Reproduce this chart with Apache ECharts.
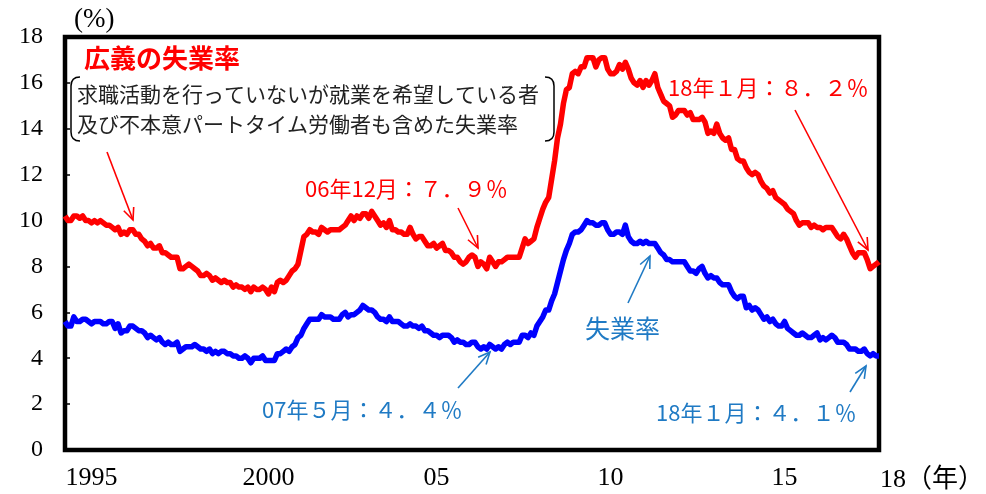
<!DOCTYPE html>
<html>
<head>
<meta charset="utf-8">
<script src="https://cdn.jsdelivr.net/npm/echarts@6/dist/echarts.min.js"></script>
<style>
  html, body { margin: 0; padding: 0; background: #fff; }
  #chart { width: 986px; height: 494px; }
</style>
</head>
<body>
<div id="chart"></div>
<script>
// 広義の失業率, 1995/01 - 2018/01 (monthly, %)
const broadRate = [
  10.2, 10.0, 10.0, 10.2, 10.2, 10.1, 10.2, 10.0, 10.0, 9.9, 10.0, 9.9,   // 1995
  10.0, 9.9, 9.8, 9.8, 9.7, 9.6, 9.7, 9.4, 9.5, 9.4, 9.6, 9.6,           // 1996
  9.4, 9.4, 9.2, 9.1, 8.9, 9.0, 8.8, 8.8, 8.9, 8.6, 8.6, 8.5,            // 1997
  8.4, 8.4, 8.4, 7.9, 7.9, 8.0, 8.1, 8.0, 7.9, 7.8, 7.6, 7.6,            // 1998
  7.7, 7.6, 7.4, 7.5, 7.4, 7.3, 7.4, 7.3, 7.3, 7.1, 7.2, 7.1,            // 1999
  7.1, 7.0, 7.1, 6.9, 7.1, 7.0, 7.0, 7.1, 7.0, 6.8, 7.1, 6.9,            // 2000
  7.3, 7.4, 7.3, 7.4, 7.6, 7.8, 7.9, 8.1, 8.7, 9.3, 9.4, 9.6,            // 2001
  9.5, 9.5, 9.4, 9.7, 9.6, 9.5, 9.6, 9.6, 9.6, 9.6, 9.7, 9.8,            // 2002
  10.0, 10.2, 10.0, 10.2, 10.1, 10.3, 10.3, 10.1, 10.4, 10.2, 10.0, 9.8, // 2003
  9.9, 9.7, 10.0, 9.6, 9.6, 9.5, 9.5, 9.4, 9.4, 9.7, 9.4, 9.2,           // 2004
  9.3, 9.3, 9.1, 8.9, 8.9, 9.0, 8.8, 8.9, 9.0, 8.7, 8.7, 8.6,            // 2005
  8.4, 8.4, 8.2, 8.1, 8.2, 8.4, 8.5, 8.4, 8.0, 8.2, 8.1, 7.9,            // 2006
  8.4, 8.2, 8.0, 8.2, 8.2, 8.3, 8.4, 8.4, 8.4, 8.4, 8.4, 8.8,            // 2007
  9.2, 9.0, 9.1, 9.2, 9.7, 10.1, 10.5, 10.8, 11.0, 11.8, 12.6, 13.6,     // 2008
  14.2, 15.1, 15.7, 15.8, 16.4, 16.5, 16.4, 16.7, 16.7, 17.1, 17.1, 17.1, // 2009
  16.7, 17.0, 17.1, 17.1, 16.6, 16.4, 16.4, 16.5, 16.8, 16.6, 16.9, 16.6, // 2010
  16.2, 16.0, 15.9, 16.1, 15.8, 16.1, 15.9, 16.1, 16.4, 15.8, 15.5, 15.2, // 2011
  15.1, 15.0, 14.5, 14.6, 14.8, 14.8, 14.8, 14.6, 14.7, 14.4, 14.4, 14.4, // 2012
  14.5, 14.3, 13.8, 13.9, 13.8, 14.2, 13.8, 13.6, 13.5, 13.6, 13.1, 13.1, // 2013
  12.7, 12.6, 12.6, 12.3, 12.1, 12.0, 12.1, 12.0, 11.7, 11.5, 11.4, 11.2, // 2014
  11.3, 11.0, 10.9, 10.8, 10.7, 10.5, 10.4, 10.3, 10.0, 9.8, 9.9, 9.9,   // 2015
  9.9, 9.7, 9.8, 9.7, 9.7, 9.6, 9.7, 9.7, 9.7, 9.5, 9.3, 9.2,            // 2016
  9.4, 9.2, 8.9, 8.6, 8.4, 8.6, 8.6, 8.6, 8.3, 7.9, 8.0, 8.1,            // 2017
  8.2                                                                     // 2018/01
];

// 失業率, 1995/01 - 2018/01 (monthly, %)
const unemploymentRate = [
  5.6, 5.4, 5.4, 5.8, 5.6, 5.6, 5.7, 5.7, 5.6, 5.5, 5.6, 5.6,  // 1995
  5.6, 5.5, 5.5, 5.6, 5.6, 5.3, 5.5, 5.1, 5.2, 5.2, 5.4, 5.4,  // 1996
  5.3, 5.2, 5.2, 5.1, 4.9, 5.0, 4.9, 4.8, 4.9, 4.7, 4.6, 4.7,  // 1997
  4.6, 4.6, 4.7, 4.3, 4.4, 4.5, 4.5, 4.5, 4.6, 4.5, 4.4, 4.4,  // 1998
  4.3, 4.4, 4.2, 4.3, 4.2, 4.3, 4.3, 4.2, 4.2, 4.1, 4.1, 4.0,  // 1999
  4.0, 4.1, 4.0, 3.8, 4.0, 4.0, 4.0, 4.1, 3.9, 3.9, 3.9, 3.9,  // 2000
  4.2, 4.2, 4.3, 4.4, 4.3, 4.5, 4.6, 4.9, 5.0, 5.3, 5.5, 5.7,  // 2001
  5.7, 5.7, 5.7, 5.9, 5.8, 5.8, 5.8, 5.7, 5.7, 5.7, 5.9, 6.0,  // 2002
  5.8, 5.9, 5.9, 6.0, 6.1, 6.3, 6.2, 6.1, 6.1, 6.0, 5.8, 5.7,  // 2003
  5.7, 5.6, 5.8, 5.6, 5.6, 5.6, 5.5, 5.4, 5.4, 5.5, 5.4, 5.4,  // 2004
  5.3, 5.4, 5.2, 5.2, 5.1, 5.0, 5.0, 4.9, 5.0, 5.0, 5.0, 4.9,  // 2005
  4.7, 4.8, 4.7, 4.7, 4.6, 4.6, 4.7, 4.7, 4.5, 4.4, 4.5, 4.4,  // 2006
  4.6, 4.5, 4.4, 4.5, 4.4, 4.6, 4.7, 4.6, 4.7, 4.7, 4.7, 5.0,  // 2007
  5.0, 4.9, 5.1, 5.0, 5.4, 5.6, 5.8, 6.1, 6.1, 6.5, 6.8, 7.3,  // 2008
  7.8, 8.3, 8.7, 9.0, 9.4, 9.5, 9.5, 9.6, 9.8, 10.0, 9.9, 9.9, // 2009
  9.8, 9.8, 9.9, 9.9, 9.6, 9.4, 9.4, 9.5, 9.5, 9.4, 9.8, 9.3,  // 2010
  9.1, 9.0, 9.0, 9.1, 9.0, 9.1, 9.0, 9.0, 9.0, 8.8, 8.6, 8.5,  // 2011
  8.3, 8.3, 8.2, 8.2, 8.2, 8.2, 8.2, 8.0, 7.8, 7.8, 7.7, 7.9,  // 2012
  8.0, 7.7, 7.5, 7.6, 7.5, 7.5, 7.3, 7.2, 7.2, 7.2, 6.9, 6.7,  // 2013
  6.6, 6.7, 6.7, 6.2, 6.3, 6.1, 6.2, 6.1, 5.9, 5.7, 5.8, 5.6,  // 2014
  5.7, 5.5, 5.4, 5.4, 5.6, 5.3, 5.2, 5.1, 5.0, 5.0, 5.1, 5.0,  // 2015
  4.9, 4.9, 5.0, 5.1, 4.8, 4.9, 4.8, 4.9, 5.0, 4.9, 4.7, 4.7,  // 2016
  4.7, 4.6, 4.4, 4.4, 4.4, 4.3, 4.3, 4.4, 4.2, 4.1, 4.2, 4.1,  // 2017
  4.1                                                          // 2018/01
];

// x axis labels, keyed by month index
const yearLabels = { 9: '1995', 69: '2000', 126: '05', 185: '10', 244: '15' };

let months = [];
for (let y = 1995; y <= 2018; y++) {
  for (let m = 1; m <= 12; m++) {
    if (months.length < broadRate.length) months.push(y + '/' + m);
  }
}

const red = '#ff0000';
const blue = '#1f7ac4';
const serif = '"Liberation Serif", "Noto Sans CJK JP", serif';
const gothic = '"Noto Sans CJK JP", sans-serif';

function arrow(x1, y1, x2, y2, color) {
  let a = Math.atan2(y2 - y1, x2 - x1);
  let len = 13, spread = 0.42;
  let p1 = [x2 - len * Math.cos(a - spread), y2 - len * Math.sin(a - spread)];
  let p2 = [x2 - len * Math.cos(a + spread), y2 - len * Math.sin(a + spread)];
  return {
    type: 'group',
    children: [
      { type: 'line', shape: { x1: x1, y1: y1, x2: x2, y2: y2 }, style: { stroke: color, lineWidth: 1.6 } },
      { type: 'polyline', shape: { points: [p1, [x2, y2], p2] }, style: { stroke: color, lineWidth: 1.6, fill: null } }
    ]
  };
}

function bracket(x, top, bottom, dir) {
  // dir = 1 opens to the right (left bracket), -1 opens to the left
  let r = 9;
  let st = { stroke: '#000', lineWidth: 1.5, fill: null };
  return {
    type: 'group',
    children: [
      { type: 'bezierCurve', shape: { x1: x + dir * r, y1: top, cpx1: x, cpy1: top, x2: x, y2: top + r }, style: st },
      { type: 'line', shape: { x1: x, y1: top + r, x2: x, y2: bottom - r }, style: st },
      { type: 'bezierCurve', shape: { x1: x, y1: bottom - r, cpx1: x, cpy1: bottom, x2: x + dir * r, y2: bottom }, style: st }
    ]
  };
}

function label(text, x, y, color, size, family, weight) {
  return {
    type: 'text',
    x: x,
    y: y,
    style: {
      text: text,
      fill: color,
      font: (weight || 'normal') + ' ' + size + 'px ' + family,
      textVerticalAlign: 'middle'
    }
  };
}

let chart = echarts.init(document.getElementById('chart'));

let option = {
  animation: false,
  backgroundColor: '#fff',
  grid: {
    left: 65,
    top: 37,
    right: 107,
    bottom: 44,
    show: true,
    borderColor: '#000',
    borderWidth: 4.5
  },
  xAxis: {
    type: 'category',
    data: months,
    boundaryGap: false,
    axisLine: { show: false },
    axisTick: { show: false },
    splitLine: { show: false },
    axisLabel: {
      interval: function (i) { return yearLabels[i] !== undefined; },
      formatter: function (v, i) { return yearLabels[i] || ''; },
      fontFamily: serif,
      fontSize: 26,
      color: '#000',
      margin: 15
    }
  },
  yAxis: {
    type: 'value',
    min: 0,
    max: 18,
    interval: 2,
    axisLine: { show: false },
    splitLine: { show: false },
    axisTick: { show: true, inside: true, length: 5, lineStyle: { color: '#000', width: 1.5 } },
    axisLabel: { fontFamily: serif, fontSize: 24, color: '#000', margin: 22 }
  },
  series: [
    {
      name: '広義の失業率',
      type: 'line',
      data: broadRate,
      showSymbol: false,
      lineStyle: { color: red, width: 5.5, join: 'round' }
    },
    {
      name: '失業率',
      type: 'line',
      data: unemploymentRate,
      showSymbol: false,
      lineStyle: { color: '#0000ff', width: 5.5, join: 'round' }
    }
  ],
  graphic: [
    label('(%)', 74, 20, '#000', 27, serif),
    label('18（年）', 880, 480, '#000', 26, serif),
    label('広義の失業率', 84, 58, red, 26, gothic, 'bold'),
    label('求職活動を行っていないが就業を希望している者', 77, 94, '#222', 21, gothic),
    label('及び不本意パートタイム労働者も含めた失業率', 77, 124, '#222', 21, gothic),
    bracket(71, 77, 141, 1),
    bracket(554, 77, 141, -1),
    arrow(107, 152, 133, 220, red),
    label('06年12月：７．９％', 305, 189, red, 22, gothic),
    arrow(458, 208, 478, 248, red),
    label('18年１月：８．２％', 668, 88, red, 22, gothic),
    arrow(795, 110, 868, 250, red),
    label('失業率', 585, 328, blue, 25, gothic),
    arrow(628, 303, 650, 256, blue),
    label('07年５月：４．４％', 262, 410, blue, 22, gothic),
    arrow(458, 388, 490, 352, blue),
    label('18年１月：４．１％', 656, 413, blue, 22, gothic),
    arrow(850, 392, 866, 366, blue)
  ]
};

chart.setOption(option);
</script>
</body>
</html>
